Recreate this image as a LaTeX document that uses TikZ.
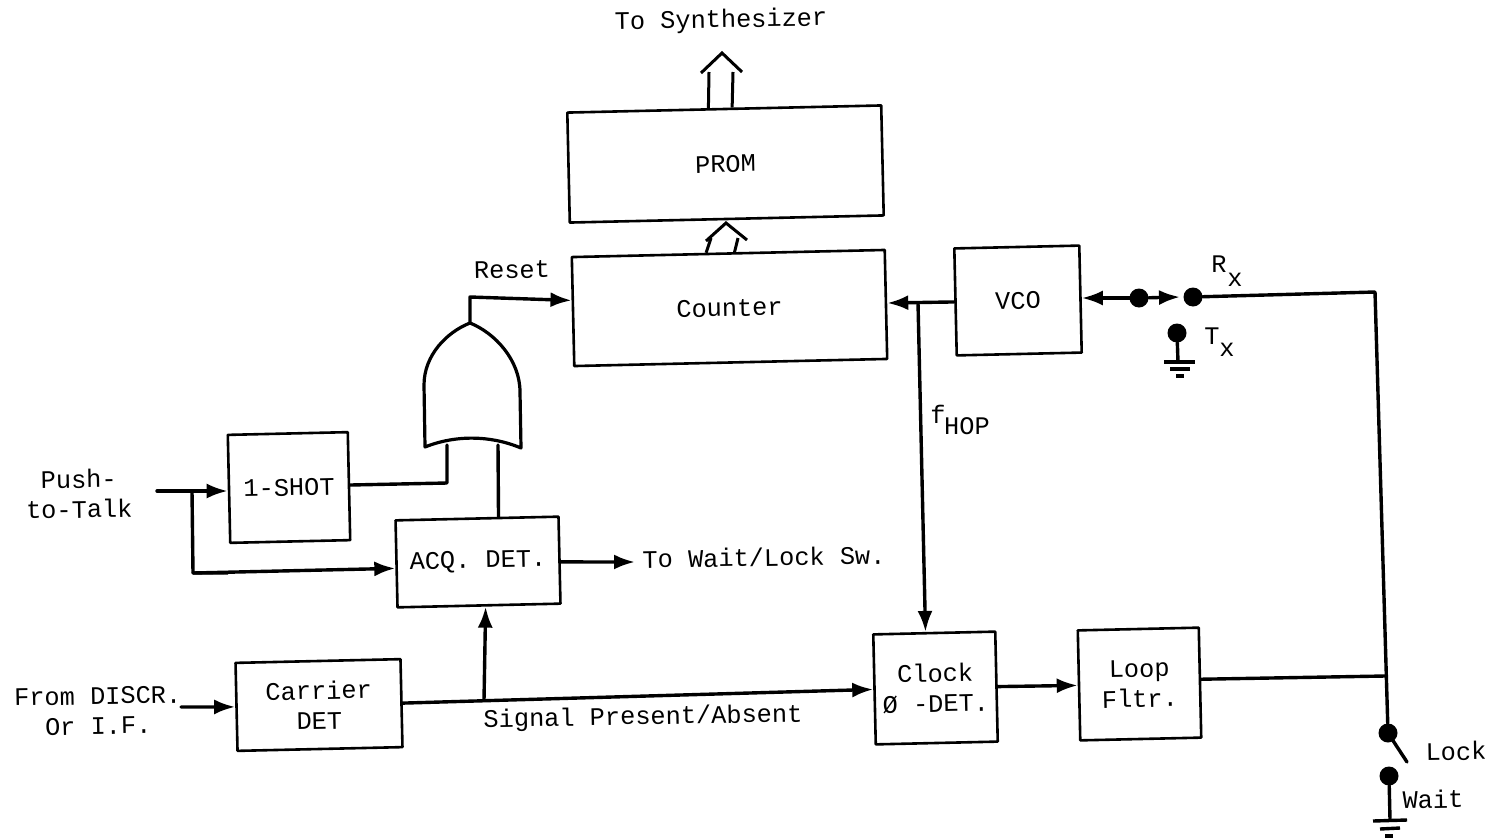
\documentclass[tikz,border=0pt]{standalone}
\usepackage{fontspec}
\setmainfont{Liberation Mono}
\usetikzlibrary{arrows.meta,calc}
\tikzset{
  box/.style={draw,line width=2.6pt,rotate=1.3,align=center,inner sep=0pt,line join=round},
  lbl/.style={inner sep=0pt,rotate=1.0,align=center},
  sub/.style={inner sep=0pt,font=\fontsize{25.3}{25.3}\selectfont},
  wire/.style={line width=3.4pt,line cap=round,line join=round},
  arr/.style={wire,-{Latex[length=21pt,width=15pt]}},
  thin wire/.style={line width=3pt,line join=round},
  dot/.style={circle,fill=black,minimum size=19pt,inner sep=0pt},
}
\begin{document}
\begin{tikzpicture}[x=1pt,y=-1pt,every node/.append style={font=\fontsize{25.3}{30}\selectfont}]
\useasboundingbox[fill=white] (0,0) rectangle (1495,838);
% blocks
\node[box,minimum width=314pt,minimum height=110pt] (prom) at (725.5,164) {PROM};
\node[box,minimum width=313pt,minimum height=109pt] (counter) at (729.5,308) {Counter};
\node[box,minimum width=125pt,minimum height=107pt] (vco) at (1018,300.5) {VCO};
\node[box,minimum width=120pt,minimum height=108pt] (shot) at (289,487.5) {1-SHOT};
\node[box,minimum width=163pt,minimum height=87pt] (acq) at (478,562) {ACQ. DET.};
\node[box,minimum width=165pt,minimum height=88pt] (carrier) at (319,705) {Carrier\\DET};
\node[box,minimum width=122pt,minimum height=110pt] (clock) at (935.5,688) {Clock\\Ø -DET.};
\node[box,minimum width=121pt,minimum height=110pt] (loop) at (1139.5,684) {Loop\\ Fltr.};
% labels
\node[lbl] (tosyn) at (721,21) {To Synthesizer};
\node[lbl] (reset) at (512,270) {Reset};
\node[lbl] (push) at (79,494) {Push-\\to-Talk};
\node[lbl] (discr) at (98,711) {From DISCR.\\Or I.F.};
\node[lbl] (towait) at (764,557) {To Wait/Lock Sw.};
\node[lbl] (signal) at (643,718) {Signal Present/Absent};
\node[lbl] (lock) at (1456,751) {Lock};
\node[lbl] (wait) at (1433,799) {Wait};
\node[sub] (rr) at (1219,264) {R};
\node[sub] (rx) at (1235,280) {x};
\node[sub] (tt) at (1212,336) {T};
\node[sub] (tx) at (1227,350) {x};
\node[sub] (ff) at (938,414) {f};
\node[sub] (hop) at (967,426) {HOP};
% coordinates
\coordinate (pushin) at (157,491);
\coordinate (pushj) at (192,491);
\coordinate (discrin) at (181,707);
\coordinate (sigj) at (484,700);
\coordinate (vcoj) at (918,303);
\coordinate (corner) at (1375,292);
\coordinate (loopj) at (1385,676);
\coordinate (orout) at (470,323);
\coordinate (orl) at (447,445);
\coordinate (orr) at (498,445);
% gate
\draw[line width=3.2pt,line join=round] (425,447) -- (424,385)
  .. controls (424,355) and (447,332) .. (orout)
  .. controls (495,333) and (520,360) .. (520,392)
  -- (521,448) .. controls (490,435) and (455,435) .. cycle;
% dots
\node[dot] (d1) at (1139,298) {};
\node[dot] (rxdot) at (1193,297) {};
\node[dot] (txdot) at (1177,333) {};
\node[dot] (sw1) at (1388,733) {};
\node[dot] (sw2) at (1389,776) {};
% wires
\draw[arr] (pushin) -- (shot.west |- pushin);
\draw[wire] (pushj) -- (193,573) -- (shot.west |- 0,573);
\draw[arr] (193,573) -- ($(acq.north west)!0.55!(acq.south west)$);
\draw[wire] ($(shot.north east)!0.49!(shot.south east)$) -- (447,483) -- (orl);
\draw[wire] ($(acq.north west)!0.63!(acq.north east)$) -- (orr);
\draw[arr] (orout) -- (470,297) -- ($(counter.north west)!0.4!(counter.south west)$);
\draw[arr] ($(acq.north east)!0.52!(acq.south east)$) -- (635,562);
\draw[arr] (discrin) -- ($(carrier.north west)!0.5!(carrier.south west)$);
\draw[arr] ($(carrier.north east)!0.5!(carrier.south east)$) -- ($(clock.north west)!0.5!(clock.south west)$);
\draw[arr] (sigj) -- ($(acq.south west)!0.54!(acq.south east)$);
\draw[arr] ($(clock.north east)!0.5!(clock.south east)$) -- ($(loop.north west)!0.5!(loop.south west)$);
\draw[wire] ($(loop.north east)!0.47!(loop.south east)$) -- (loopj);
\draw[arr] (vco.west) -- (counter.east |- vcoj);
\draw[arr] (vcoj) -- ($(clock.north west)!0.43!(clock.north east)$);
\draw[wire,{Latex[length=21pt,width=15pt]}-] (vco.east |- 0,298) -- (d1);
\draw[arr] (d1) -- (1180,297);
\draw[wire] (rxdot) -- (corner) -- (sw1);
\draw[wire] (sw1) -- (1407,762);
% ground symbols
\draw[wire] (txdot) -- (1178,362);
\draw[wire,line cap=butt] (1164,362) -- (1195,362);
\draw[wire,line cap=butt] (1170,369) -- (1190,369);
\draw[wire,line cap=butt] (1176,376) -- (1184,376);
\draw[wire] (sw2) -- (1390,820);
\draw[wire,line cap=butt] (1373,821) -- (1407,820);
\draw[wire,line cap=butt] (1380,829) -- (1400,828);
\draw[wire,line cap=butt] (1385,836) -- (1393,836);
% wide arrows
\draw[thin wire] ($(prom.north west)!0.45!(prom.north east)$) -- (709,72);
\draw[thin wire] ($(prom.north west)!0.525!(prom.north east)$) -- (733,72);
\draw[thin wire,line join=miter] (701,73) -- (722,53) -- (742,72);
\draw[thin wire] ($(counter.north west)!0.43!(counter.north east)$) -- (711,238);
\draw[thin wire] ($(counter.north west)!0.52!(counter.north east)$) -- (738,238);
\draw[thin wire,line join=miter] (706,241) -- (726,223) -- (747,240);
\end{tikzpicture}
\end{document}
